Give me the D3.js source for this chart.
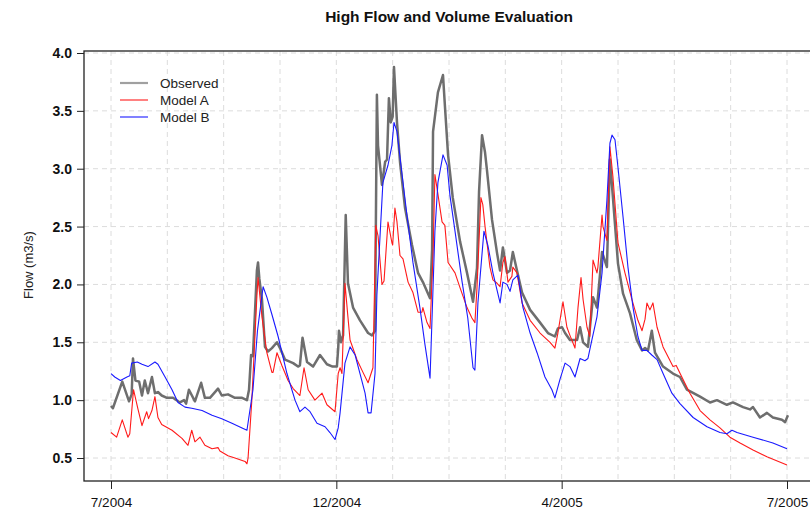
<!DOCTYPE html>
<html>
<head>
<meta charset="utf-8">
<script src="https://cdn.jsdelivr.net/npm/d3@7"></script>
<style>
  html, body { margin: 0; padding: 0; background: #fff; }
  svg { display: block; font-family: "Liberation Sans", Arial, sans-serif; }
</style>
</head>
<body>
<svg id="chart" width="810" height="514"></svg>
<script>
// ---- data (time index in days from 7/2004, flow in m3/s) ----
const xTickValues = [0, 120, 240, 360];
const xTickLabels = ["7/2004", "12/2004", "4/2005", "7/2005"];
const yTickValues = [0.5, 1.0, 1.5, 2.0, 2.5, 3.0, 3.5, 4.0];
const seriesNames = ["Observed", "Model A", "Model B"];

const observed = [[0,0.95],[1,0.93],[6,1.16],[9.6,0.99],[11,1.05],[11.7,1.36],[13,1.17],[15,1.16],[16.5,1.04],[18,1.17],[19.7,1.06],[21.8,1.2],[23.4,1.06],[25,1.07],[27,1.04],[29.8,1.02],[33,1.02],[36.7,0.98],[38.9,1.0],[40,0.97],[41.5,1.09],[44.7,0.99],[48,1.15],[50,1.02],[52.7,1.02],[57,1.1],[59,1.04],[62.3,1.05],[66,1.02],[69.8,1.02],[72.4,1.0],[73.5,1.09],[74.6,1.39],[75.6,1.38],[77.7,2.12],[78.3,2.19],[79,2.05],[80.4,1.87],[82,1.46],[83.6,1.42],[85.7,1.45],[88.4,1.5],[90,1.45],[92.7,1.35],[97,1.32],[99.6,1.29],[100.6,1.3],[102,1.54],[104.4,1.33],[107.6,1.29],[111.3,1.39],[115,1.31],[118,1.29],[120.3,1.29],[121,1.45],[121.4,1.6],[122.5,1.5],[123.6,1.56],[125,2.6],[126.2,2.01],[128.9,1.8],[132.6,1.69],[136.9,1.58],[139,1.56],[140.6,1.6],[141.6,3.64],[142.2,3.2],[144.3,2.86],[146,3.06],[147,3.08],[148,3.61],[149,3.4],[150,3.45],[150.7,3.88],[152.3,3.4],[153.9,3.06],[156.6,2.66],[160.3,2.34],[163.5,2.1],[166.1,2.02],[169.9,1.88],[171,2.3],[171.5,3.32],[174.1,3.66],[176.8,3.81],[177.8,3.55],[179.5,3.12],[182,2.75],[185.9,2.37],[189.6,2.1],[192.8,1.85],[194.9,2.14],[196,2.8],[197.6,3.29],[199.2,3.14],[200.2,2.99],[202.9,2.56],[205.6,2.27],[207.2,2.12],[208.7,2.32],[210.9,2.1],[212.5,2.12],[214,2.28],[216.2,2.12],[218.9,1.93],[223.2,1.78],[228.5,1.67],[232.7,1.58],[236.4,1.55],[238,1.62],[240.2,1.63],[241.8,1.58],[244.4,1.52],[248.2,1.52],[249.8,1.63],[251.4,1.5],[254,1.46],[256.7,1.89],[258.8,1.8],[261.5,2.28],[264.1,2.15],[265.7,3.08],[267.3,2.75],[270,2.18],[272.7,1.92],[276.4,1.75],[280,1.52],[282.8,1.43],[284.4,1.45],[286,1.43],[288,1.6],[289.7,1.41],[294,1.29],[299.3,1.23],[303,1.2],[306.7,1.09],[313.7,1.03],[319,0.98],[322.7,1.0],[328,0.96],[331.2,0.98],[336.6,0.94],[340.3,0.92],[341.9,0.94],[345.6,0.85],[349.3,0.89],[352.5,0.85],[357.3,0.83],[359,0.81],[360.5,0.87]];

const modelA = [[0,0.72],[3,0.68],[6,0.83],[9,0.68],[10,0.71],[12,1.09],[14.4,0.92],[16.5,0.78],[19,0.9],[20,0.84],[21.8,0.91],[23.4,1.03],[25,0.85],[27,0.79],[32.5,0.74],[37.8,0.67],[41,0.61],[43,0.74],[44.7,0.64],[47.4,0.68],[50,0.61],[53.8,0.58],[57,0.59],[58,0.56],[62.3,0.52],[66,0.5],[71.4,0.47],[72.4,0.45],[73,0.5],[75,1.0],[77.7,1.9],[78.3,2.06],[80.4,1.72],[83,1.41],[85.7,1.24],[86.3,1.24],[88.4,1.41],[91,1.3],[94.3,1.17],[97,1.1],[100.6,1.04],[102.8,1.28],[105,1.09],[108.6,1.0],[112.4,1.06],[115,0.96],[119.3,0.9],[121,1.23],[122,1.28],[123,1.23],[124.6,2.01],[126,1.75],[127.3,1.52],[131,1.35],[134.2,1.24],[136.9,1.15],[139.5,1.28],[141,2.51],[142.2,2.42],[144.3,2.0],[145.4,2.03],[147.5,2.54],[149.6,2.36],[150,2.34],[151.2,2.66],[152.3,2.54],[153.9,2.25],[155.5,2.22],[158.2,2.02],[160.8,1.93],[163.5,1.76],[165.6,1.76],[166.1,1.8],[168.3,1.67],[169.9,1.62],[171.5,2.25],[172.5,2.95],[174.1,2.78],[176.3,2.54],[177.8,2.51],[179.5,2.19],[183.2,2.1],[185.9,1.97],[189.6,1.8],[192.2,1.71],[193.8,1.67],[194.9,1.97],[197,2.75],[198,2.69],[199.2,2.5],[201.8,2.15],[203.4,2.04],[205.6,2.01],[207.2,1.98],[208.7,2.19],[209.8,2.24],[211.4,2.02],[213.5,2.07],[214,2.15],[216.2,2.1],[218.9,1.84],[223.2,1.69],[228.5,1.58],[233.8,1.5],[236.4,1.45],[238,1.58],[240.7,1.85],[242.8,1.63],[244.4,1.56],[247.1,1.45],[248.7,1.8],[250.3,2.06],[251.4,1.87],[253.5,1.63],[255,1.55],[256.7,2.21],[258.8,2.1],[259.3,2.15],[261.5,2.6],[262,2.5],[264.1,2.38],[265.7,3.19],[267.3,2.93],[270,2.36],[273.7,2.1],[277.4,1.87],[280.6,1.69],[282.8,1.6],[284.4,1.7],[285.4,1.84],[287,1.78],[288.6,1.84],[290.8,1.63],[294,1.46],[299.3,1.29],[301,1.3],[304,1.2],[308.3,1.06],[313.7,0.91],[319,0.83],[324.3,0.76],[329.6,0.68],[335,0.63],[341.9,0.57],[349.3,0.51],[360,0.44]];

const modelB = [[0,1.23],[2,1.2],[5,1.17],[8.5,1.2],[10,1.21],[11,1.32],[14,1.33],[16.5,1.31],[19.7,1.29],[23.4,1.33],[25,1.31],[28.8,1.2],[32.5,1.09],[35.7,0.98],[39.4,0.94],[43,0.93],[48.5,0.91],[53.8,0.87],[59,0.84],[64.4,0.8],[69.8,0.76],[72.4,0.74],[75.6,1.09],[78,1.6],[81,1.98],[83,1.89],[85.7,1.74],[89,1.55],[93.7,1.23],[98,1.0],[100.6,0.9],[103.3,0.94],[106,0.9],[109.7,0.8],[114,0.77],[116.6,0.72],[119.3,0.66],[121,0.76],[122,0.89],[124.6,1.32],[127.3,1.46],[130,1.39],[132.6,1.23],[135.3,1.06],[136.9,0.89],[138.5,0.89],[140.6,1.23],[141.6,1.91],[144.8,2.88],[147.5,3.03],[149.6,3.2],[150.7,3.4],[152.3,3.32],[155,2.95],[157.6,2.6],[160.8,2.19],[164.5,1.8],[167.2,1.48],[169.9,1.19],[172.5,2.46],[174.1,2.88],[176.8,3.12],[179,3.03],[180.5,2.77],[183.2,2.46],[187,2.02],[190,1.71],[192.8,1.28],[193.8,1.26],[195.4,1.84],[198.6,2.46],[200.8,2.33],[203.4,2.1],[207.2,1.84],[208.7,2.02],[210.9,2.0],[212.5,1.94],[214,2.04],[216.7,2.08],[219.4,1.8],[223.2,1.58],[226.9,1.41],[231.1,1.2],[234.8,1.09],[236.4,1.02],[239.1,1.18],[241.8,1.32],[244.4,1.29],[247.1,1.2],[249.8,1.36],[252.4,1.34],[254,1.36],[256.1,1.52],[258.8,1.72],[261.5,2.1],[264.1,2.73],[265.7,3.22],[266.8,3.29],[268.4,3.25],[270,3.01],[272.7,2.58],[275.3,2.15],[278,1.8],[280.6,1.55],[282.8,1.43],[285.4,1.43],[288,1.39],[290.8,1.35],[294,1.23],[298.7,1.06],[303,0.97],[310,0.85],[317.4,0.77],[324.3,0.72],[328,0.71],[330.7,0.74],[333.4,0.72],[341.9,0.68],[352.5,0.63],[360,0.58]];

// ---- layout ----
const svg = d3.select("#chart");
const frame = { left: 84, top: 51, right: 814, bottom: 481 };
const x = d3.scaleLinear().domain([0, 360]).range([111, 787]);
const y = d3.scaleLinear().domain([0.5, 4.0]).range([458, 53]);

// grid
const grid = svg.append("g").attr("stroke", "#dcdcdc").attr("stroke-dasharray", "5,4").attr("stroke-width", 1);
grid.selectAll("line.v").data(d3.range(0, 361, 30)).join("line")
  .attr("x1", d => x(d)).attr("x2", d => x(d))
  .attr("y1", frame.top).attr("y2", frame.bottom);
grid.selectAll("line.h").data(yTickValues).join("line")
  .attr("y1", d => y(d)).attr("y2", d => y(d))
  .attr("x1", frame.left).attr("x2", frame.right);

// lines
const line = d3.line().x(d => x(d[0])).y(d => y(d[1]));
const styles = [
  { data: observed, color: "#6e6e6e", width: 2.5 },
  { data: modelA, color: "#ff1a1a", width: 1.1 },
  { data: modelB, color: "#1a1aff", width: 1.1 }
];
styles.forEach(s => {
  svg.append("path").datum(s.data).attr("d", line)
    .attr("fill", "none").attr("stroke", s.color)
    .attr("stroke-width", s.width).attr("stroke-linejoin", "round");
});

// frame
svg.append("rect").attr("x", frame.left).attr("y", frame.top)
  .attr("width", frame.right - frame.left).attr("height", frame.bottom - frame.top)
  .attr("fill", "none").attr("stroke", "#222").attr("stroke-width", 1.3);

// y axis
const yAxis = d3.axisLeft(y).tickValues(yTickValues).tickFormat(d3.format(".1f")).tickSize(7).tickPadding(5);
const gy = svg.append("g").attr("transform", `translate(${frame.left},0)`).call(yAxis);
gy.select(".domain").remove();
gy.selectAll("line").attr("stroke", "#222");
gy.selectAll("text").attr("font-size", 14).attr("font-weight", "bold").attr("fill", "#111")
  .attr("font-family", "'Liberation Sans', Arial, sans-serif");

// x axis
const xAxis = d3.axisBottom(x).tickValues(xTickValues).tickFormat((d, i) => xTickLabels[i]).tickSize(8).tickPadding(8);
const gx = svg.append("g").attr("transform", `translate(0,${frame.bottom})`).call(xAxis);
gx.select(".domain").remove();
gx.selectAll("line").attr("stroke", "#222");
gx.selectAll("text").attr("font-size", 13.5).attr("fill", "#111")
  .attr("font-family", "'Liberation Sans', Arial, sans-serif");

// title
svg.append("text").attr("x", 449).attr("y", 22).attr("text-anchor", "middle")
  .attr("font-size", 15.5).attr("font-weight", "bold").attr("fill", "#111")
  .text("High Flow and Volume Evaluation");

// y label
svg.append("text").attr("transform", "translate(33,265) rotate(-90)")
  .attr("text-anchor", "middle").attr("font-size", 13).attr("fill", "#222")
  .text("Flow (m3/s)");

// legend
const legendColors = ["#a0a0a0", "#ff1a1a", "#1a1aff"];
const legendWidths = [2.2, 1.1, 1.1];
const lg = svg.append("g");
seriesNames.forEach((name, i) => {
  const yy = 83 + i * 17;
  lg.append("line").attr("x1", 120).attr("x2", 148).attr("y1", yy).attr("y2", yy)
    .attr("stroke", legendColors[i]).attr("stroke-width", legendWidths[i]);
  lg.append("text").attr("x", 160).attr("y", yy + 4.5).attr("font-size", 13.5).attr("fill", "#222").text(name);
});
</script>
</body>
</html>
